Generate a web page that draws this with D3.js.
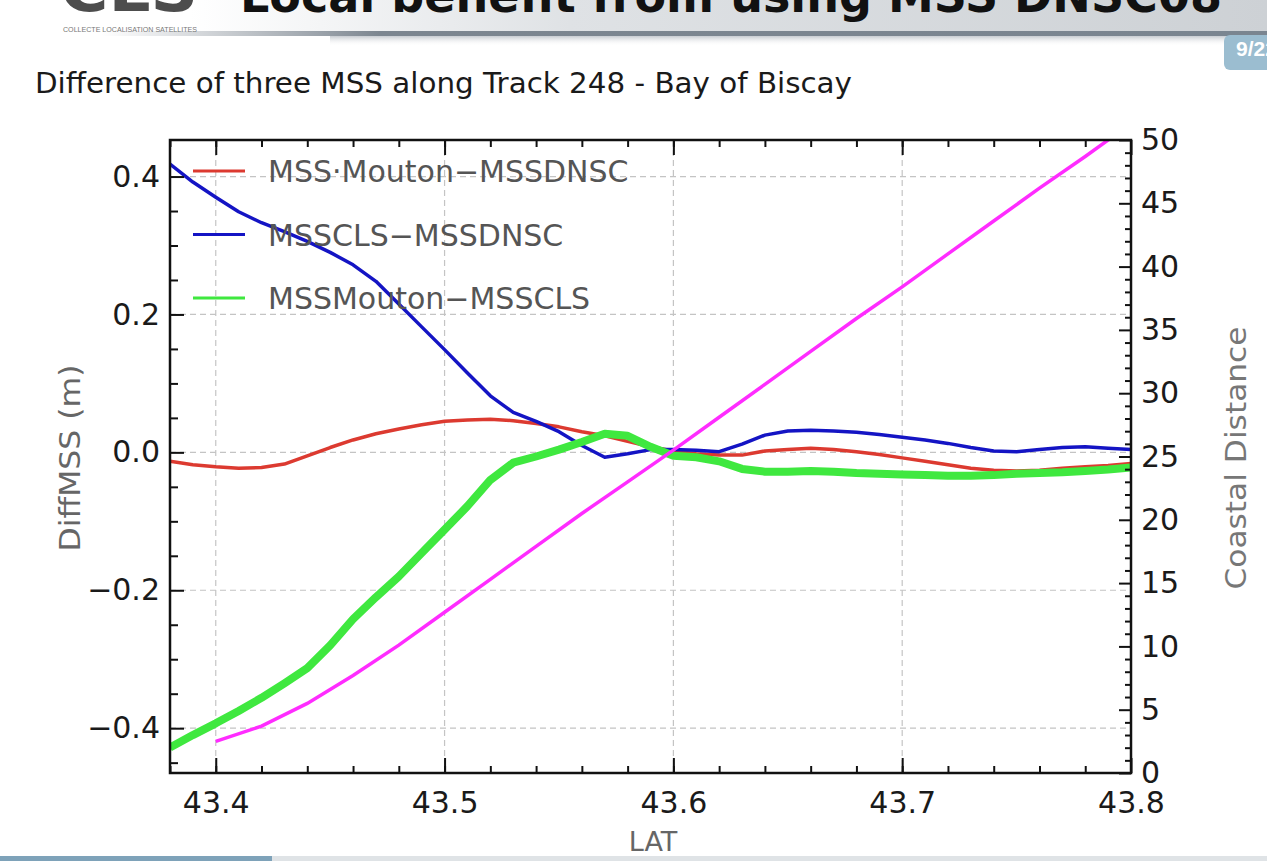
<!DOCTYPE html>
<html>
<head>
<meta charset="utf-8">
<script src="https://cdn.jsdelivr.net/npm/d3@7"></script>
<style>
  body { margin: 0; background: #fff; overflow: hidden; }
  svg { display: block; }
  .tick text { font-family: "DejaVu Sans", sans-serif; font-size: 30px; fill: #1a1a1a; }
</style>
</head>
<body>
<svg id="slide" width="1267" height="861"></svg>
<script>
// latitude samples along the track
const lat = [43.38, 43.39, 43.40, 43.41, 43.42, 43.43, 43.44, 43.45, 43.46, 43.47,
  43.48, 43.49, 43.50, 43.51, 43.52, 43.53, 43.54, 43.55, 43.56, 43.57,
  43.58, 43.59, 43.60, 43.61, 43.62, 43.63, 43.64, 43.65, 43.66, 43.67,
  43.68, 43.69, 43.70, 43.71, 43.72, 43.73, 43.74, 43.75, 43.76, 43.77,
  43.78, 43.79, 43.80]

const mouDnsc = [-0.013, -0.018, -0.021, -0.023, -0.022, -0.017, -0.005, 0.007, 0.018, 0.027,
  0.034, 0.040, 0.045, 0.047, 0.048, 0.046, 0.042, 0.037, 0.030, 0.024,
  0.016, 0.008, 0.002, -0.002, -0.004, -0.004, 0.002, 0.004, 0.006, 0.004,
  0.001, -0.003, -0.008, -0.013, -0.018, -0.023, -0.026, -0.027, -0.026, -0.023,
  -0.021, -0.019, -0.016]

const clsDnsc = [0.418, 0.392, 0.370, 0.349, 0.333, 0.320, 0.306, 0.290, 0.272, 0.248,
  0.215, 0.182, 0.149, 0.115, 0.082, 0.058, 0.045, 0.030, 0.010, -0.007,
  -0.002, 0.004, 0.004, 0.003, 0.001, 0.012, 0.025, 0.031, 0.032, 0.031,
  0.029, 0.026, 0.022, 0.018, 0.013, 0.007, 0.002, 0.001, 0.004, 0.007,
  0.008, 0.006, 0.004]

const mouCls = [-0.428, -0.410, -0.393, -0.375, -0.356, -0.335, -0.313, -0.280, -0.242, -0.210,
  -0.180, -0.146, -0.112, -0.078, -0.040, -0.015, -0.006, 0.004, 0.015, 0.027,
  0.024, 0.008, -0.005, -0.007, -0.013, -0.024, -0.028, -0.028, -0.027, -0.028,
  -0.030, -0.031, -0.032, -0.033, -0.034, -0.034, -0.033, -0.031, -0.030, -0.029,
  -0.027, -0.025, -0.022]

const distLat = [43.40, 43.42, 43.44, 43.46, 43.48, 43.50, 43.52, 43.54, 43.56, 43.58,
  43.60, 43.62, 43.64, 43.66, 43.68, 43.70, 43.72, 43.74, 43.76, 43.78, 43.80]
const coastDist = [2.5, 3.7, 5.5, 7.7, 10.1, 12.7, 15.3, 17.9, 20.5, 23.0,
  25.5, 28.1, 30.7, 33.3, 35.9, 38.4, 41.0, 43.6, 46.2, 48.7, 51.3]

const seriesNames = ['MSS·Mouton−MSSDNSC', 'MSSCLS−MSSDNSC', 'MSSMouton−MSSCLS']
const seriesColors = ['#dc3a30', '#1414c4', '#3fe83f']

const xTicks = [43.4, 43.5, 43.6, 43.7, 43.8]
const xMinor = [43.38, 43.40, 43.42, 43.44, 43.46, 43.48, 43.50, 43.52, 43.54, 43.56, 43.58,
  43.60, 43.62, 43.64, 43.66, 43.68, 43.70, 43.72, 43.74, 43.76, 43.78]
const yTicks = [-0.4, -0.2, 0.0, 0.2, 0.4]
const yMinor = [-0.45, -0.35, -0.3, -0.25, -0.15, -0.1, -0.05, 0.05, 0.1, 0.15, 0.25, 0.3, 0.35]
const distTicks = [0, 5, 10, 15, 20, 25, 30, 35, 40, 45, 50]
const distMinor = d3.range(0, 51).filter(v => v % 5 !== 0)

const svg = d3.select('#slide')
const defs = svg.append('defs')

// ---- slide decoration ----
const hg = defs.append('linearGradient').attr('id', 'head').attr('x1', 0).attr('x2', 1)
hg.append('stop').attr('offset', '0.15').attr('stop-color', '#ffffff')
hg.append('stop').attr('offset', '0.45').attr('stop-color', '#dfe2e5')
hg.append('stop').attr('offset', '1').attr('stop-color', '#cdd1d5')
svg.append('rect').attr('x', 0).attr('y', 0).attr('width', 1267).attr('height', 32).attr('fill', 'url(#head)')

const sg = defs.append('linearGradient').attr('id', 'shadowline').attr('x1', 0).attr('x2', 1)
sg.append('stop').attr('offset', '0.08').attr('stop-color', '#8b939c').attr('stop-opacity', 0)
sg.append('stop').attr('offset', '0.3').attr('stop-color', '#7c8690').attr('stop-opacity', 1)
sg.append('stop').attr('offset', '1').attr('stop-color', '#7a8590').attr('stop-opacity', 1)
svg.append('rect').attr('x', 0).attr('y', 31).attr('width', 1267).attr('height', 5).attr('fill', 'url(#shadowline)')

const sb = defs.append('linearGradient').attr('id', 'blur').attr('x1', 0).attr('x2', 0).attr('y1', 0).attr('y2', 1)
sb.append('stop').attr('offset', '0').attr('stop-color', '#9aa2ab').attr('stop-opacity', 0.55)
sb.append('stop').attr('offset', '1').attr('stop-color', '#ffffff').attr('stop-opacity', 0)
svg.append('rect').attr('x', 330).attr('y', 36).attr('width', 937).attr('height', 10).attr('fill', 'url(#blur)')

svg.append('text').attr('x', 60).attr('y', 11)
  .attr('font-family', 'DejaVu Sans, sans-serif').attr('font-weight', 'bold').attr('font-size', 60)
  .attr('fill', '#4d4d4d').attr('textLength', 138).attr('lengthAdjust', 'spacingAndGlyphs')
  .text('CLS')
svg.append('text').attr('x', 63).attr('y', 32)
  .attr('font-family', 'Liberation Sans Narrow, Liberation Sans, sans-serif').attr('font-size', 8)
  .attr('fill', '#777').attr('textLength', 134).attr('lengthAdjust', 'spacingAndGlyphs')
  .text('COLLECTE LOCALISATION SATELLITES')

svg.append('text').attr('x', 240).attr('y', 12)
  .attr('font-family', 'DejaVu Sans, sans-serif').attr('font-weight', 'bold').attr('font-size', 46)
  .attr('fill', '#111').attr('textLength', 982).attr('lengthAdjust', 'spacingAndGlyphs')
  .text('Local benefit from using MSS DNSC08')

svg.append('rect').attr('x', 1224).attr('y', 35).attr('width', 60).attr('height', 35).attr('rx', 6)
  .attr('fill', '#9bbdd0')
svg.append('text').attr('x', 1236).attr('y', 56)
  .attr('font-family', 'Liberation Sans Narrow, Liberation Sans, sans-serif').attr('font-weight', 'bold')
  .attr('font-size', 21).attr('fill', '#fff').text('9/22')

svg.append('text').attr('x', 35).attr('y', 93)
  .attr('font-family', 'DejaVu Sans, sans-serif').attr('font-size', 29)
  .attr('fill', '#1a1a1a').attr('textLength', 817).attr('lengthAdjust', 'spacingAndGlyphs')
  .text('Difference of three MSS along Track 248 - Bay of Biscay')

svg.append('rect').attr('x', 0).attr('y', 856).attr('width', 1267).attr('height', 5).attr('fill', '#dfe3e6')
svg.append('rect').attr('x', 0).attr('y', 856).attr('width', 272).attr('height', 5).attr('fill', '#7ea2b9')

// ---- chart ----
const pL = 170, pR = 1131, pT = 140, pB = 773

const x = d3.scaleLinear().domain([43.38, 43.8]).range([pL, pR])
const y = d3.scaleLinear().domain([-0.465, 0.453]).range([pB, pT])
const yR = d3.scaleLinear().domain([0, 50]).range([pB, pT])

defs.append('clipPath').attr('id', 'plot')
  .append('rect').attr('x', pL).attr('y', pT).attr('width', pR - pL).attr('height', pB - pT)

// grid
const grid = svg.append('g').attr('stroke', '#c4c4c4').attr('stroke-width', 1.2).attr('stroke-dasharray', '6,4')
grid.selectAll('.gx').data(xTicks.slice(0, -1)).join('line')
  .attr('x1', d => x(d)).attr('x2', d => x(d)).attr('y1', pT).attr('y2', pB)
grid.selectAll('.gy').data(yTicks).join('line')
  .attr('x1', pL).attr('x2', pR).attr('y1', d => y(d)).attr('y2', d => y(d))

// series
const rows = lat.map((l, i) => ({ lat: l, v: [mouDnsc[i], clsDnsc[i], mouCls[i]] }))
const widths = [3.5, 3.5, 8]
const plot = svg.append('g').attr('clip-path', 'url(#plot)')
;[0, 1, 2].forEach(k => {
  plot.append('path').datum(rows)
    .attr('fill', 'none').attr('stroke', seriesColors[k]).attr('stroke-width', widths[k])
    .attr('stroke-linejoin', 'round')
    .attr('d', d3.line().x(d => x(d.lat)).y(d => y(d.v[k])))
})
plot.append('path').datum(distLat.map((l, i) => [l, coastDist[i]]))
  .attr('fill', 'none').attr('stroke', '#ff2cff').attr('stroke-width', 3.5)
  .attr('d', d3.line().x(d => x(d[0])).y(d => yR(d[1])))

// legend
const leg = svg.append('g')
seriesNames.forEach((name, i) => {
  const yy = 171 + i * 63.5
  leg.append('line').attr('x1', 193).attr('x2', 245).attr('y1', yy).attr('y2', yy)
    .attr('stroke', seriesColors[i]).attr('stroke-width', 3)
  leg.append('text').attr('x', 268).attr('y', yy + 11)
    .attr('font-family', 'DejaVu Sans, sans-serif').attr('font-size', 30)
    .attr('fill', '#555').text(name)
})

// axes (ticks drawn inward)
const fmt = d3.format('.1f')
svg.append('g').attr('transform', `translate(0,${pB})`)
  .call(d3.axisBottom(x).tickValues(xMinor).tickSize(-7).tickFormat(''))
svg.append('g').attr('transform', `translate(0,${pB})`)
  .call(d3.axisBottom(x).tickValues(xTicks).tickSize(-15).tickPadding(19).tickFormat(fmt))
svg.append('g').attr('transform', `translate(0,${pT})`)
  .call(d3.axisTop(x).tickValues(xMinor).tickSize(-7).tickFormat(''))
svg.append('g').attr('transform', `translate(0,${pT})`)
  .call(d3.axisTop(x).tickValues(xTicks).tickSize(-15).tickFormat(''))
svg.append('g').attr('transform', `translate(${pL},0)`)
  .call(d3.axisLeft(y).tickValues(yMinor).tickSize(-8).tickFormat(''))
svg.append('g').attr('transform', `translate(${pL},0)`)
  .call(d3.axisLeft(y).tickValues(yTicks).tickSize(-14).tickPadding(10).tickFormat(fmt))
svg.append('g').attr('transform', `translate(${pR},0)`)
  .call(d3.axisRight(yR).tickValues(distMinor).tickSize(-6).tickFormat(''))
svg.append('g').attr('transform', `translate(${pR},0)`)
  .call(d3.axisRight(yR).tickValues(distTicks).tickSize(-12).tickPadding(10))

svg.selectAll('.domain').remove()
svg.selectAll('.tick line').attr('stroke', '#111').attr('stroke-width', 2)

svg.append('rect').attr('x', pL).attr('y', pT).attr('width', pR - pL).attr('height', pB - pT)
  .attr('fill', 'none').attr('stroke', '#111').attr('stroke-width', 2.5)

// axis titles
const titleFont = 'DejaVu Sans, sans-serif'
svg.append('text').attr('transform', 'translate(80,458) rotate(-90)').attr('text-anchor', 'middle')
  .attr('font-family', titleFont).attr('font-size', 29).attr('fill', '#666')
  .attr('textLength', 187).attr('lengthAdjust', 'spacingAndGlyphs').text('DiffMSS (m)')
svg.append('text').attr('transform', 'translate(1246,458) rotate(-90)').attr('text-anchor', 'middle')
  .attr('font-family', titleFont).attr('font-size', 29).attr('fill', '#777')
  .attr('textLength', 263).attr('lengthAdjust', 'spacingAndGlyphs').text('Coastal Distance')
svg.append('text').attr('x', 653).attr('y', 851).attr('text-anchor', 'middle')
  .attr('font-family', titleFont).attr('font-size', 27).attr('fill', '#666').text('LAT')
</script>
</body>
</html>
